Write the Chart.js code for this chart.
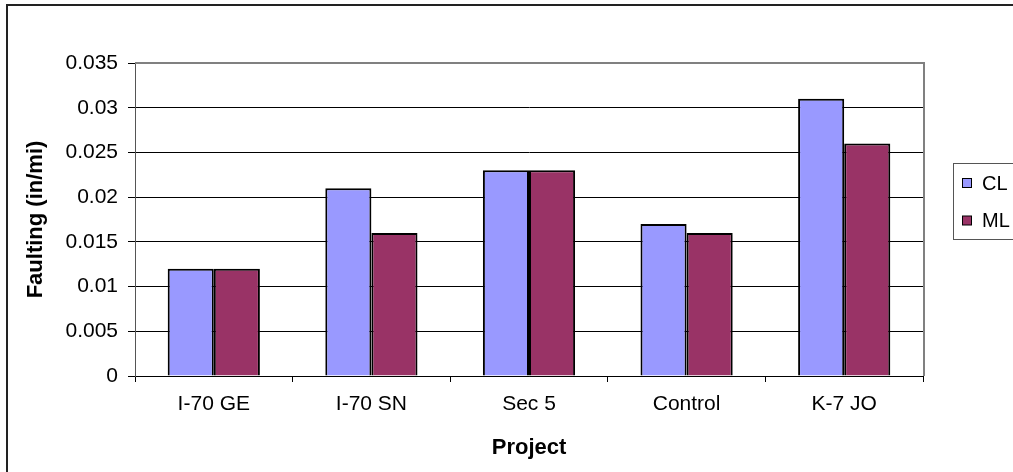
<!DOCTYPE html>
<html>
<head>
<meta charset="utf-8">
<script src="https://cdn.jsdelivr.net/npm/chart.js@4/dist/chart.umd.min.js"></script>
<style>
  html, body { margin: 0; padding: 0; background: #fff; }
  #wrap { position: relative; width: 1013px; height: 472px; }
</style>
</head>
<body>
<div id="wrap"><canvas id="c"></canvas></div>
<script>
// Faulting by project, centre lane (CL) vs. mid lane (ML)
const categories = ['I-70 GE', 'I-70 SN', 'Sec 5', 'Control', 'K-7 JO'];
const clValues = [0.012, 0.021, 0.023, 0.017, 0.031];
const mlValues = [0.012, 0.016, 0.023, 0.016, 0.026];
const yTickValues = [0, 0.005, 0.01, 0.015, 0.02, 0.025, 0.03, 0.035];
const yTickLabels = ['0', '0.005', '0.01', '0.015', '0.02', '0.025', '0.03', '0.035'];

const FONT = '"Liberation Sans", Arial, sans-serif';

// Frame, plot border and a boxed legend on the right
const decor = {
  id: 'decor',
  beforeDraw(chart) {
    const ctx = chart.ctx;
    ctx.save();
    ctx.fillStyle = '#222';
    ctx.fillRect(6, 4, chart.width, 2);
    ctx.fillRect(6, 4, 2, chart.height);
    ctx.restore();
  },
  afterDraw(chart) {
    const ctx = chart.ctx;
    const a = chart.chartArea;
    ctx.save();
    ctx.strokeStyle = '#808080';
    ctx.lineWidth = 2;
    ctx.beginPath();
    ctx.moveTo(a.left, a.top);
    ctx.lineTo(a.right + 1, a.top);
    ctx.lineTo(a.right + 1, a.bottom);
    ctx.stroke();

    // legend
    ctx.strokeStyle = '#555';
    ctx.lineWidth = 1;
    ctx.strokeRect(953.5, 163.5, 100, 76);
    ctx.font = '20px ' + FONT;
    ctx.textBaseline = 'middle';
    ctx.textAlign = 'left';
    const rows = [183, 220.5];
    chart.data.datasets.forEach((ds, i) => {
      const cy = rows[i];
      ctx.fillStyle = ds.backgroundColor;
      ctx.fillRect(962, cy - 4.5, 9, 9);
      ctx.strokeStyle = '#000';
      ctx.strokeRect(962.5, cy - 4.5, 9, 9);
      ctx.fillStyle = '#000';
      ctx.fillText(ds.label, 982, cy + 1);
    });
    ctx.restore();
  }
};

new Chart(document.getElementById('c'), {
  type: 'bar',
  data: {
    labels: categories,
    datasets: [
      { label: 'CL', data: clValues, backgroundColor: '#9999FF', borderColor: '#000', borderWidth: 2 },
      { label: 'ML', data: mlValues, backgroundColor: '#993366', borderColor: '#000', borderWidth: 2 }
    ]
  },
  options: {
    responsive: true,
    maintainAspectRatio: false,
    animation: false,
    devicePixelRatio: 1,
    layout: { padding: { top: 63, right: 90, bottom: 0, left: 0 } },
    datasets: { bar: { categoryPercentage: 0.585, barPercentage: 1 } },
    plugins: { legend: { display: false }, tooltip: { enabled: false } },
    scales: {
      x: {
        afterFit(scale) { scale.height = 96; },
        grid: { display: true, drawOnChartArea: false, drawTicks: true, tickLength: 6, color: '#000', offset: true },
        border: { color: '#000', width: 1 },
        ticks: { color: '#000', font: { family: FONT, size: 21 }, padding: 10, maxRotation: 0, minRotation: 0, autoSkip: false },
        title: { display: true, text: 'Project', color: '#000', font: { family: FONT, size: 22, weight: 'bold' }, padding: { top: 0, bottom: 11 } }
      },
      y: {
        min: 0,
        max: 0.035,
        afterFit(scale) { scale.width = 135; },
        afterBuildTicks(scale) { scale.ticks = yTickValues.map(v => ({ value: v })); },
        grid: { color: '#000', lineWidth: 1, drawTicks: true, tickLength: 7 },
        border: { color: '#555', width: 1 },
        ticks: { color: '#000', font: { family: FONT, size: 21 }, padding: 10, callback: (v, i) => yTickLabels[i] },
        title: { display: true, text: 'Faulting (in/mi)', color: '#000', font: { family: FONT, size: 22, weight: 'bold' }, padding: { top: 23, bottom: 0 } }
      }
    }
  },
  plugins: [decor]
});
</script>
</body>
</html>
